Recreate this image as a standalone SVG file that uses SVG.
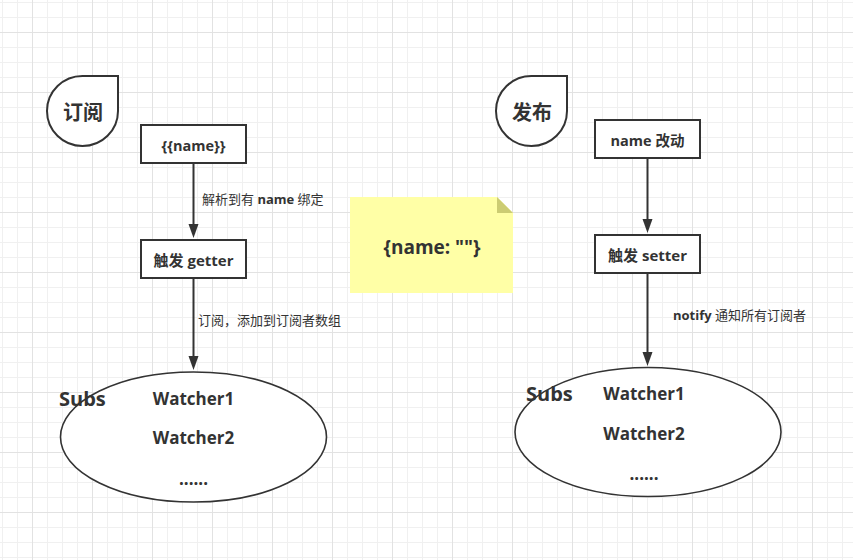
<svg xmlns="http://www.w3.org/2000/svg" width="853" height="560" viewBox="0 0 853 560">
  <defs>
    <pattern id="grid" patternUnits="userSpaceOnUse" x="2" y="2" width="60" height="60">
      <path d="M0.5,0 V60 M15.5,0 V60 M45.5,0 V60 M0,0.5 H60 M0,15.5 H60 M0,45.5 H60" stroke="#f0f0f0" stroke-width="1" fill="none"/>
      <path d="M30.5,0 V60 M0,30.5 H60" stroke="#e2e2e2" stroke-width="1" fill="none"/>
    </pattern>
    <marker id="arrow" markerUnits="userSpaceOnUse" markerWidth="16" markerHeight="12" refX="2" refY="5" orient="auto">
      <path d="M0,0 L14,5 L0,10 Z" fill="#333333"/>
    </marker>
    <style>
      .t { font-family: "Open Sans", "Noto Sans CJK SC", sans-serif; fill: #333333; }
      .b { font-weight: bold; }
      .box { fill: #ffffff; stroke: #333333; stroke-width: 2; }
      .ell { fill: #ffffff; stroke: #333333; stroke-width: 1.6; }
      .drop { fill: #ffffff; stroke: #333333; stroke-width: 2; }
      .conn { stroke: #333333; stroke-width: 2; fill: none; marker-end: url(#arrow); }
      .lbl { font-size: 13px; }
    </style>
  </defs>
  <rect x="0" y="0" width="853" height="560" fill="#ffffff"/>
  <rect x="0" y="0" width="853" height="560" fill="url(#grid)"/>

  <g id="sub-title">
    <path class="drop" d="M83,76 L118,76 L118,111 A35.5,35 0 0 1 82.5,146 A35.5,35 0 0 1 47,111 A35.5,35 0 0 1 83,76 Z"/>
    <text class="t b" x="83" y="112" font-size="20" text-anchor="middle" dominant-baseline="central">订阅</text>
  </g>
  <g id="pub-title">
    <path class="drop" d="M532,76 L567,76 L567,111 A35.5,35 0 0 1 531.5,146 A35.5,35 0 0 1 496,111 A35.5,35 0 0 1 532,76 Z"/>
    <text class="t b" x="532" y="112" font-size="20" text-anchor="middle" dominant-baseline="central">发布</text>
  </g>

  <g id="connectors">
    <line class="conn" x1="193.5" y1="163" x2="193.5" y2="226"/>
    <line class="conn" x1="193.5" y1="278" x2="193.5" y2="358"/>
    <line class="conn" x1="647.5" y1="158" x2="647.5" y2="221"/>
    <line class="conn" x1="647.5" y1="273" x2="647.5" y2="354"/>
    <text class="t lbl" x="202" y="199" dominant-baseline="central">解析到有 <tspan class="b">name</tspan> 绑定</text>
    <text class="t lbl" x="198" y="320" dominant-baseline="central">订阅，添加到订阅者数组</text>
    <text class="t lbl" x="673" y="315" dominant-baseline="central"><tspan class="b">notify</tspan> 通知所有订阅者</text>
  </g>

  <g id="template">
    <rect class="box" x="141" y="125" width="105" height="38"/>
    <text class="t b" x="193.5" y="145" font-size="14.5" text-anchor="middle" dominant-baseline="central">{{name}}</text>
  </g>
  <g id="getter">
    <rect class="box" x="141" y="240" width="105" height="38"/>
    <text class="t b" x="193.5" y="260" font-size="15" text-anchor="middle" dominant-baseline="central">触发 getter</text>
  </g>
  <g id="name-change">
    <rect class="box" x="595" y="120" width="105" height="38"/>
    <text class="t b" x="647.5" y="140" font-size="14.5" text-anchor="middle" dominant-baseline="central">name 改动</text>
  </g>
  <g id="setter">
    <rect class="box" x="595" y="235" width="105" height="38"/>
    <text class="t b" x="647.5" y="255" font-size="15" text-anchor="middle" dominant-baseline="central">触发 setter</text>
  </g>

  <g id="note">
    <path d="M350,197 H497 L513,213 V293 H350 Z" fill="#ffffa6"/>
    <path d="M497,197 V213 H513 Z" fill="#cccc73"/>
    <text class="t b" x="432" y="247" font-size="19" text-anchor="middle" dominant-baseline="central">{name: ""}</text>
  </g>

  <g id="subs-left">
    <ellipse class="ell" cx="193.5" cy="437" rx="133" ry="65"/>
    <text class="t b" x="59" y="398" font-size="20" dominant-baseline="central">Subs</text>
    <text class="t b" x="193.5" y="398" font-size="17" text-anchor="middle" dominant-baseline="central">Watcher1</text>
    <text class="t b" x="193.5" y="437" font-size="17" text-anchor="middle" dominant-baseline="central">Watcher2</text>
    <text class="t b" x="193.5" y="478" font-size="17" text-anchor="middle" dominant-baseline="central">......</text>
  </g>
  <g id="subs-right">
    <ellipse class="ell" cx="648" cy="432" rx="133" ry="64.5"/>
    <text class="t b" x="526" y="393" font-size="20" dominant-baseline="central">Subs</text>
    <text class="t b" x="644" y="393" font-size="17" text-anchor="middle" dominant-baseline="central">Watcher1</text>
    <text class="t b" x="644" y="433" font-size="17" text-anchor="middle" dominant-baseline="central">Watcher2</text>
    <text class="t b" x="644" y="473" font-size="17" text-anchor="middle" dominant-baseline="central">......</text>
  </g>
</svg>
